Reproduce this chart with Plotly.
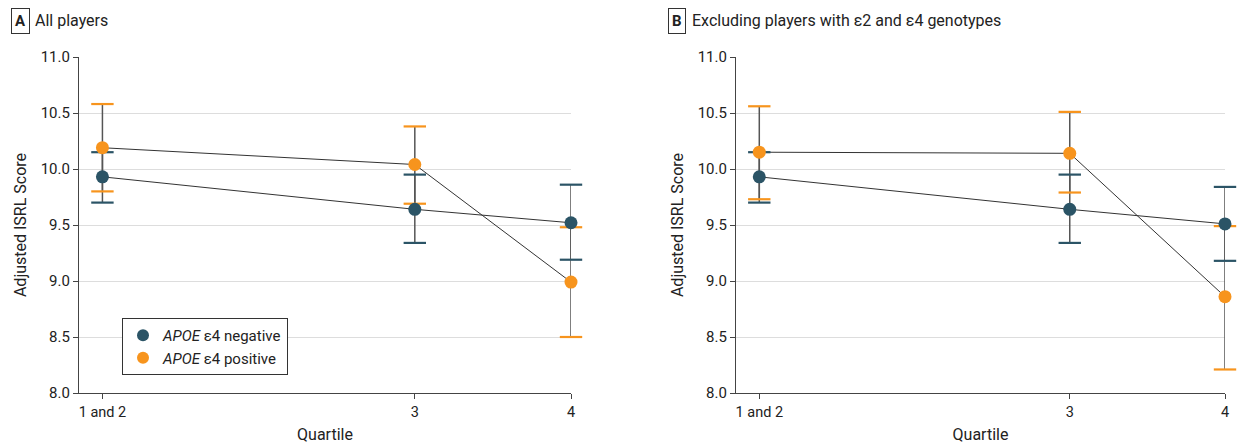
import plotly.graph_objects as go

quartiles = ["1 and 2", "3", "4"]
x_positions = [1, 3, 4]

# Panel A: all players
a_neg = [9.93, 9.64, 9.52]
a_neg_hi = [10.15, 9.95, 9.86]
a_neg_lo = [9.70, 9.34, 9.19]
a_pos = [10.19, 10.04, 8.99]
a_pos_hi = [10.58, 10.38, 9.48]
a_pos_lo = [9.80, 9.69, 8.50]

# Panel B: excluding e2 and e4 genotypes
b_neg = [9.93, 9.64, 9.51]
b_neg_hi = [10.15, 9.95, 9.84]
b_neg_lo = [9.70, 9.34, 9.18]
b_pos = [10.15, 10.14, 8.86]
b_pos_hi = [10.56, 10.51, 9.49]
b_pos_lo = [9.73, 9.79, 8.21]

series_names = ["<i>APOE</i> ε4 negative", "<i>APOE</i> ε4 positive"]
colors = ["#2b5466", "#f7941d"]
y_ticks = [8.0, 8.5, 9.0, 9.5, 10.0, 10.5, 11.0]

FONT = "Roboto, Noto Sans, sans-serif"
fig = go.Figure()

panels = [
    ("x", "y", [(a_neg, a_neg_hi, a_neg_lo), (a_pos, a_pos_hi, a_pos_lo)], True),
    ("x2", "y2", [(b_neg, b_neg_hi, b_neg_lo), (b_pos, b_pos_hi, b_pos_lo)], False),
]

for xa, ya, series, show in panels:
    # connecting lines
    for (vals, hi, lo) in series:
        fig.add_trace(go.Scatter(x=x_positions, y=vals, mode="lines",
                                 line=dict(color="#333333", width=1),
                                 xaxis=xa, yaxis=ya, showlegend=False,
                                 hoverinfo="skip", cliponaxis=False))
    # error bar stems
    for (vals, hi, lo) in series:
        fig.add_trace(go.Scatter(
            x=x_positions, y=vals, mode="markers", marker=dict(size=0.1, opacity=0),
            error_y=dict(type="data", symmetric=False,
                         array=[h - v for h, v in zip(hi, vals)],
                         arrayminus=[v - l for v, l in zip(vals, lo)],
                         color="#555555", thickness=1.5, width=0),
            xaxis=xa, yaxis=ya, showlegend=False, hoverinfo="skip", cliponaxis=False))
    # caps
    for (vals, hi, lo), c in zip(series, colors):
        fig.add_trace(go.Scatter(
            x=x_positions + x_positions, y=hi + lo, mode="markers",
            marker=dict(symbol="line-ew", size=16, line=dict(color=c, width=2.2)),
            xaxis=xa, yaxis=ya, showlegend=False, hoverinfo="skip", cliponaxis=False))
    # dots
    for (vals, hi, lo), c, name in zip(series, colors, series_names):
        fig.add_trace(go.Scatter(
            x=x_positions, y=vals, mode="markers", name=name,
            marker=dict(size=13, color=c),
            xaxis=xa, yaxis=ya, showlegend=show, cliponaxis=False))

W, H = 1238, 444
xdomA = [79 / W, 571 / W]
xdomB = [736 / W, 1225 / W]
ydom = [(H - 393) / H, (H - 57) / H]

xcommon = dict(range=[0.85, 4.0], tickvals=x_positions, ticktext=quartiles,
               showgrid=False, zeroline=False, showline=True, linecolor="#444444",
               linewidth=1.2, ticks="outside", ticklen=5, tickcolor="#444444",
               automargin=False,
               tickfont=dict(size=14.5, color="#222222", family=FONT),
               title=dict(text="Quartile", font=dict(size=16, color="#222222", family=FONT),
                          standoff=11))
ycommon = dict(range=[8.0, 11.0], tickvals=y_ticks, tickformat=".1f",
               showgrid=True, gridcolor="#dddddd", gridwidth=1, zeroline=False,
               showline=True, linecolor="#444444", linewidth=1.2,
               ticks="outside", ticklen=5, tickcolor="#444444",
               automargin=False,
               tickfont=dict(size=15, color="#222222", family=FONT),
               title=dict(text="Adjusted ISRL Score",
                          font=dict(size=16, color="#222222", family=FONT), standoff=10))

fig.update_layout(
    width=W, height=H,
    margin=dict(l=0, r=0, t=0, b=0, autoexpand=False),
    paper_bgcolor="white", plot_bgcolor="white",
    font=dict(family=FONT, color="#222222"),
    xaxis=dict(domain=xdomA, anchor="y", **xcommon),
    yaxis=dict(domain=ydom, anchor="x", **ycommon),
    xaxis2=dict(domain=xdomB, anchor="y2", **xcommon),
    yaxis2=dict(domain=ydom, anchor="x2", **ycommon),
    legend=dict(x=122 / W, y=1 - 318 / H, xanchor="left", yanchor="top",
                bordercolor="#333333", borderwidth=1, bgcolor="white",
                font=dict(size=15, color="#222222", family=FONT),
                itemsizing="constant", tracegroupgap=0, itemwidth=30),
    showlegend=True,
)

annos = [
    (11 / W, "A", True), (35 / W, "All players", False),
    (668 / W, "B", True), (692 / W, "Excluding players with ε2 and ε4 genotypes", False),
]
for xp, txt, boxed in annos:
    fig.add_annotation(
        x=xp, y=1 - 21 / H, xref="paper", yref="paper", xanchor="left", yanchor="middle",
        text=f"<b>{txt}</b>" if boxed else txt, showarrow=False,
        font=dict(size=15 if boxed else 16, color="#222222", family=FONT),
        bordercolor="#333333" if boxed else None, borderwidth=1 if boxed else 0,
        borderpad=3 if boxed else 0)

fig.write_html("out.html", config={"displayModeBar": False},
               post_script="document.body.style.margin='0';document.body.style.overflow='hidden';")
